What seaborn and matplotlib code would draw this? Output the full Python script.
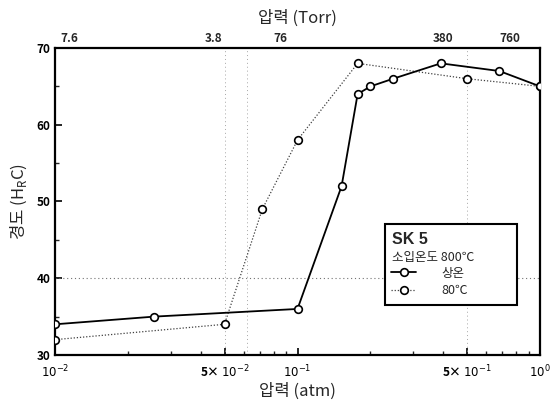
import matplotlib
matplotlib.use("Agg")
import matplotlib.pyplot as plt
import seaborn as sns
import numpy as np
import pandas as pd
from matplotlib.ticker import FixedLocator, NullFormatter
from matplotlib.patches import Rectangle

sns.set_theme(style="white")
plt.rcParams['font.family'] = ['Noto Sans CJK KR', 'DejaVu Sans']
plt.rcParams['mathtext.fontset'] = 'dejavusans'

# data
room_x = [0.01, 0.0256, 0.1, 0.152, 0.177, 0.2, 0.248, 0.39, 0.68, 1.0]
room_y = [34, 35, 36, 52, 64, 65, 66, 68, 67, 65]
hot_x = [0.01, 0.05, 0.0716, 0.1, 0.177, 0.5, 1.0]
hot_y = [32, 34, 49, 58, 68, 66, 65]
bottom_ticks = [0.01, 0.05, 0.1, 0.5, 1.0]
bottom_labels = [r"$10^{-2}$", r"5× $10^{-2}$", r"$10^{-1}$", r"5× $10^{-1}$", r"$10^{0}$"]
top_ticks = [0.0115, 0.0449, 0.0847, 0.398, 0.751]
top_labels = ["7.6", "3.8", "76", "380", "760"]
y_ticks = [30, 40, 50, 60, 70]

fig = plt.figure(figsize=(5.55, 4.05), dpi=100)
ax = fig.add_axes([55/555, 1-355/405, 485/555, 307/405])

ax.set_xscale('log')
ax.set_xlim(0.01, 1.0)
ax.set_ylim(30, 70)

# faint grid
ax.axhline(40, color='0.45', lw=0.8, ls=(0, (1, 2.5)), zorder=1)
for gx in [0.05, 0.062, 0.5]:
    ax.axvline(gx, color='0.65', lw=0.7, ls=(0, (1, 3)), zorder=1)

df_room = pd.DataFrame({'x': room_x, 'y': room_y})
df_hot = pd.DataFrame({'x': hot_x, 'y': hot_y})

sns.lineplot(data=df_room, x='x', y='y', ax=ax, color='black', lw=1.3,
             marker='o', markersize=5.5, markerfacecolor='white',
             markeredgecolor='black', markeredgewidth=1.2, zorder=4, label='상온')
sns.lineplot(data=df_hot, x='x', y='y', ax=ax, color='0.25', lw=0.9, ls=(0, (1, 1.5)),
             marker='o', markersize=5.5, markerfacecolor='white',
             markeredgecolor='black', markeredgewidth=1.2, zorder=3, label='80℃')

# ticks
ax.xaxis.set_major_locator(FixedLocator(bottom_ticks))
ax.set_xticklabels(bottom_labels)
minor = [m * 10.0**e for e in (-2, -1) for m in range(2, 10)]
ax.xaxis.set_minor_locator(FixedLocator(minor))
ax.xaxis.set_minor_formatter(NullFormatter())
ax.set_yticks(y_ticks)
ax.yaxis.set_minor_locator(FixedLocator([35, 45, 55, 65]))
ax.tick_params(axis='both', which='major', direction='in', length=5, width=1.2,
               labelsize=8.5, colors='black', bottom=True, left=True)
ax.tick_params(axis='both', which='minor', direction='in', length=3, width=1.0,
               bottom=True, left=True)
ax.tick_params(axis='x', pad=6)
for lab in ax.get_yticklabels():
    lab.set_fontweight('bold')
for lab in ax.get_xticklabels():
    lab.set_fontweight('bold')

for s in ax.spines.values():
    s.set_color('black')
    s.set_linewidth(1.6)

ax.set_xlabel('압력 (atm)', fontsize=12, labelpad=2)
ax.set_ylabel(r'경도 (H$_\mathregular{R}$C)', fontsize=12, labelpad=5)

# top axis
top = ax.secondary_xaxis('top')
top.set_xticks(top_ticks)
top.set_xticklabels(top_labels)
top.xaxis.set_minor_locator(FixedLocator([]))
top.tick_params(axis='x', length=0, labelsize=8.5, pad=2)
for lab in top.get_xticklabels():
    lab.set_fontweight('bold')
top.spines['top'].set_visible(False)
top.set_xlabel('압력 (Torr)', fontsize=12, labelpad=7)

# legend box
ax.add_patch(Rectangle((0.680, 0.163), 0.273, 0.264, transform=ax.transAxes,
                       facecolor='white', edgecolor='black', lw=1.5, zorder=6))
ax.text(0.695, 0.375, 'SK 5', transform=ax.transAxes, fontsize=11.5,
        fontweight='bold', va='center', ha='left', zorder=7,
        family=['Liberation Sans', 'DejaVu Sans'])
ax.text(0.695, 0.318, '소입온도 800℃', transform=ax.transAxes, fontsize=9,
        va='center', ha='left', zorder=7)
leg = ax.legend(loc='upper left', bbox_to_anchor=(0.693, 0.288), frameon=False,
                fontsize=9, handlelength=2.0, handletextpad=2.0, labelspacing=0.35,
                borderaxespad=0, borderpad=0)
leg.set_zorder(8)

fig.savefig('out.png', dpi=100)
